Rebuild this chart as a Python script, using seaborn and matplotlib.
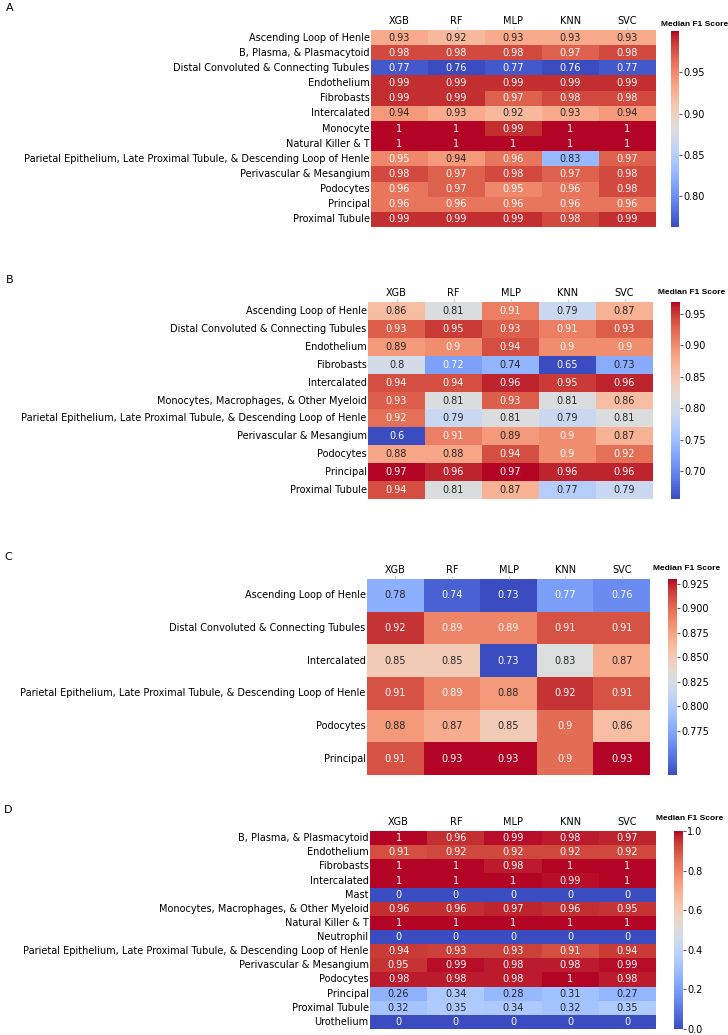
import matplotlib
matplotlib.use("Agg")

import numpy as np
import pandas as pd
import matplotlib.pyplot as plt
import seaborn as sns

# ===========================
# DATA
# ===========================

MODELS = ["XGB", "RF", "MLP", "KNN", "SVC"]

A_ROWS = [
    "Ascending Loop of Henle",
    "B, Plasma, & Plasmacytoid",
    "Distal Convoluted & Connecting Tubules",
    "Endothelium",
    "Fibrobasts",
    "Intercalated",
    "Monocyte",
    "Natural Killer & T",
    "Parietal Epithelium, Late Proximal Tubule, & Descending Loop of Henle",
    "Perivascular & Mesangium",
    "Podocytes",
    "Principal",
    "Proximal Tubule",
]
A_VALUES = [
    [0.93, 0.92, 0.93, 0.93, 0.93],
    [0.98, 0.98, 0.98, 0.97, 0.98],
    [0.77, 0.76, 0.77, 0.76, 0.77],
    [0.99, 0.99, 0.99, 0.99, 0.99],
    [0.99, 0.99, 0.97, 0.98, 0.98],
    [0.94, 0.93, 0.92, 0.93, 0.94],
    [1.00, 1.00, 0.99, 1.00, 1.00],
    [1.00, 1.00, 1.00, 1.00, 1.00],
    [0.95, 0.94, 0.96, 0.83, 0.97],
    [0.98, 0.97, 0.98, 0.97, 0.98],
    [0.96, 0.97, 0.95, 0.96, 0.98],
    [0.96, 0.96, 0.96, 0.96, 0.96],
    [0.99, 0.99, 0.99, 0.98, 0.99],
]
A_TICKS = [0.80, 0.85, 0.90, 0.95]

B_ROWS = [
    "Ascending Loop of Henle",
    "Distal Convoluted & Connecting Tubules",
    "Endothelium",
    "Fibrobasts",
    "Intercalated",
    "Monocytes, Macrophages, & Other Myeloid",
    "Parietal Epithelium, Late Proximal Tubule, & Descending Loop of Henle",
    "Perivascular & Mesangium",
    "Podocytes",
    "Principal",
    "Proximal Tubule",
]
B_VALUES = [
    [0.86, 0.81, 0.91, 0.79, 0.87],
    [0.93, 0.95, 0.93, 0.91, 0.93],
    [0.89, 0.90, 0.94, 0.90, 0.90],
    [0.80, 0.72, 0.74, 0.65, 0.73],
    [0.94, 0.94, 0.96, 0.95, 0.96],
    [0.93, 0.81, 0.93, 0.81, 0.86],
    [0.92, 0.79, 0.81, 0.79, 0.81],
    [0.60, 0.91, 0.89, 0.90, 0.87],
    [0.88, 0.88, 0.94, 0.90, 0.92],
    [0.97, 0.96, 0.97, 0.96, 0.96],
    [0.94, 0.81, 0.87, 0.77, 0.79],
]
B_TICKS = [0.70, 0.75, 0.80, 0.85, 0.90, 0.95]

C_ROWS = [
    "Ascending Loop of Henle",
    "Distal Convoluted & Connecting Tubules",
    "Intercalated",
    "Parietal Epithelium, Late Proximal Tubule, & Descending Loop of Henle",
    "Podocytes",
    "Principal",
]
C_VALUES = [
    [0.78, 0.74, 0.73, 0.77, 0.76],
    [0.92, 0.89, 0.89, 0.91, 0.91],
    [0.85, 0.85, 0.73, 0.83, 0.87],
    [0.91, 0.89, 0.88, 0.92, 0.91],
    [0.88, 0.87, 0.85, 0.90, 0.86],
    [0.91, 0.93, 0.93, 0.90, 0.93],
]
C_TICKS = [0.775, 0.800, 0.825, 0.850, 0.875, 0.900, 0.925]

D_ROWS = [
    "B, Plasma, & Plasmacytoid",
    "Endothelium",
    "Fibrobasts",
    "Intercalated",
    "Mast",
    "Monocytes, Macrophages, & Other Myeloid",
    "Natural Killer & T",
    "Neutrophil",
    "Parietal Epithelium, Late Proximal Tubule, & Descending Loop of Henle",
    "Perivascular & Mesangium",
    "Podocytes",
    "Principal",
    "Proximal Tubule",
    "Urothelium",
]
D_VALUES = [
    [1.00, 0.96, 0.99, 0.98, 0.97],
    [0.91, 0.92, 0.92, 0.92, 0.92],
    [1.00, 1.00, 0.98, 1.00, 1.00],
    [1.00, 1.00, 1.00, 0.99, 1.00],
    [0.00, 0.00, 0.00, 0.00, 0.00],
    [0.96, 0.96, 0.97, 0.96, 0.95],
    [1.00, 1.00, 1.00, 1.00, 1.00],
    [0.00, 0.00, 0.00, 0.00, 0.00],
    [0.94, 0.93, 0.93, 0.91, 0.94],
    [0.95, 0.99, 0.98, 0.98, 0.99],
    [0.98, 0.98, 0.98, 1.00, 0.98],
    [0.26, 0.34, 0.28, 0.31, 0.27],
    [0.32, 0.35, 0.34, 0.32, 0.35],
    [0.00, 0.00, 0.00, 0.00, 0.00],
]
D_TICKS = [0.0, 0.2, 0.4, 0.6, 0.8, 1.0]

# ===========================
# LAYOUT (pixels of the 728x1035 canvas)
# ===========================

W, H = 728, 1035


def px_box(x0, y0, x1, y1):
    return [x0 / W, 1 - y1 / H, (x1 - x0) / W, (y1 - y0) / H]


def draw_panel(fig, letter, rows, values, ticks, hm_box, cb_box, letter_xy, title_xy):
    ax = fig.add_axes(px_box(*hm_box))
    cax = fig.add_axes(px_box(*cb_box))
    df = pd.DataFrame(values, index=rows, columns=MODELS)

    sns.heatmap(
        df,
        ax=ax,
        cbar_ax=cax,
        cmap="coolwarm",
        robust=True,
        annot=True,
        annot_kws={"fontsize": 7},
        xticklabels=True,
        yticklabels=True,
        cbar_kws={"ticks": ticks},
    )
    ax.xaxis.tick_top()
    ax.set_xlabel("")
    ax.set_ylabel("")
    ax.tick_params(axis="x", length=2, color="#d0d0d0", labelsize=7, pad=1, rotation=0)
    ax.tick_params(axis="y", length=0, labelsize=7, pad=1, rotation=0)
    cax.tick_params(labelsize=7, length=2, pad=1, color="#555555")

    fig.text(letter_xy[0] / W, 1 - letter_xy[1] / H, letter, fontsize=8, va="center")
    fig.text(
        title_xy[0] / W,
        1 - title_xy[1] / H,
        "Median F1 Score",
        fontsize=6,
        fontweight="bold",
        family=["Liberation Sans", "DejaVu Sans"],
        va="center",
    )


fig = plt.figure(figsize=(W / 100, H / 100), dpi=100)

draw_panel(fig, "A", A_ROWS, A_VALUES, A_TICKS,
           (371, 30, 656, 227), (671, 31, 679, 227), (6, 8), (661, 24))
draw_panel(fig, "B", B_ROWS, B_VALUES, B_TICKS,
           (368, 302, 653, 499), (671, 302, 680, 499), (6, 280), (658, 293))
draw_panel(fig, "C", C_ROWS, C_VALUES, C_TICKS,
           (367, 579, 650, 775), (668, 579, 677, 775), (4, 557), (653, 568))
draw_panel(fig, "D", D_ROWS, D_VALUES, D_TICKS,
           (370, 831, 656, 1029), (674, 831, 683, 1029), (4, 810), (656, 818))

fig.savefig("out.png", dpi=100)
